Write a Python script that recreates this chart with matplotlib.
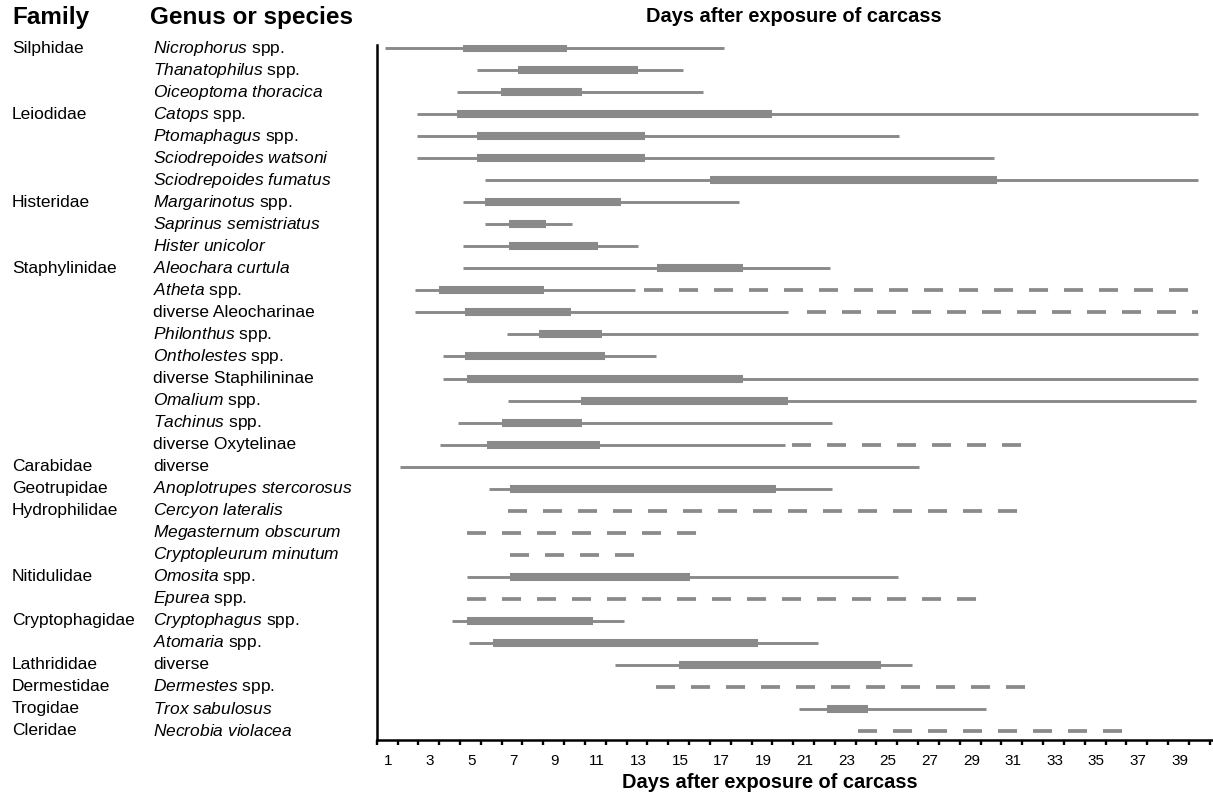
import matplotlib
matplotlib.use("Agg")
import matplotlib.pyplot as plt
import matplotlib.transforms as mtransforms
import numpy as np

plt.rcParams['font.family'] = ['Liberation Sans', 'DejaVu Sans']
plt.rcParams['mathtext.fontset'] = 'custom'
plt.rcParams['mathtext.it'] = 'Liberation Sans:italic'
plt.rcParams['mathtext.rm'] = 'Liberation Sans'
plt.rcParams['lines.scale_dashes'] = False

# family label and the row it starts on
families = ["Silphidae", "Leiodidae", "Histeridae", "Staphylinidae", "Carabidae",
            "Geotrupidae", "Hydrophilidae", "Nitidulidae", "Cryptophagidae",
            "Lathrididae", "Dermestidae", "Trogidae", "Cleridae"]
family_rows = [0, 3, 7, 10, 19, 20, 21, 24, 26, 28, 29, 30, 31]

# (italic part, plain part)
species = [
    ("Nicrophorus", "spp."), ("Thanatophilus", "spp."), ("Oiceoptoma thoracica", ""),
    ("Catops", "spp."), ("Ptomaphagus", "spp."), ("Sciodrepoides watsoni", ""),
    ("Sciodrepoides fumatus", ""), ("Margarinotus", "spp."), ("Saprinus semistriatus", ""),
    ("Hister unicolor", ""), ("Aleochara curtula", ""), ("Atheta", "spp."),
    ("", "diverse Aleocharinae"), ("Philonthus", "spp."), ("Ontholestes", "spp."),
    ("", "diverse Staphilininae"), ("Omalium", "spp."), ("Tachinus", "spp."),
    ("", "diverse Oxytelinae"), ("", "diverse"), ("Anoplotrupes stercorosus", ""),
    ("Cercyon lateralis", ""), ("Megasternum obscurum", ""), ("Cryptopleurum minutum", ""),
    ("Omosita", "spp."), ("Epurea", "spp."), ("Cryptophagus", "spp."),
    ("Atomaria", "spp."), ("", "diverse"), ("Dermestes", "spp."),
    ("Trox sabulosus", ""), ("Necrobia violacea", ""),
]

# full occurrence range (solid thin line)
thin_start = [0.84, 5.24, 4.31, 2.36, 2.36, 2.36, 5.64, 4.6, 5.64, 4.6, 4.6, 2.28,
              2.28, 6.68, 3.61, 3.61, 6.76, 4.36, 3.48, 1.56, 5.85, None, None, None,
              4.79, None, 4.04, 4.89, 11.88, None, 20.73, None]
thin_end = [17.1, 15.16, 16.09, 39.87, 25.5, 30.1, 39.87, 17.85, 9.8, 13.0, 22.2, 12.84,
            20.2, 39.87, 13.85, 39.87, 39.8, 22.3, 20.05, 26.5, 22.3, None, None, None,
            25.48, None, 12.31, 21.64, 26.13, None, 29.72, None]
# main occurrence (thick bar)
thick_start = [4.57, 7.24, 6.41, 4.31, 5.24, 5.24, 16.44, 5.64, 6.81, 6.81, 13.88, 3.45,
               4.68, 8.25, 4.68, 4.79, 10.24, 6.44, 5.72, None, 6.84, None, None, None,
               6.84, None, 4.79, 6.04, 14.97, None, 22.05, None]
thick_end = [9.59, 13.0, 10.28, 19.4, 13.32, 13.32, 30.24, 12.16, 8.57, 11.05, 18.04, 8.47,
             9.76, 11.27, 11.4, 18.04, 20.18, 10.28, 11.16, None, 19.6, None, None, None,
             15.48, None, 10.81, 18.76, 24.68, None, 24.05, None]
# sporadic occurrence (dashed line)
dash_start = [None] * 11 + [13.3, 21.1] + [None] * 5 + [20.4, None, None, 6.76, 4.79, 6.84,
                                                        None, 4.79, None, None, None, 13.85, None, 23.56]
dash_end = [None] * 11 + [39.5, 39.9] + [None] * 5 + [31.46, None, None, 31.25, 15.83, 12.84,
                                                      None, 29.29, None, None, None, 31.57, None, 36.26]

day_labels = list(range(1, 40, 2))

W, H = 1213, 797
fig = plt.figure(figsize=(W / 100, H / 100), dpi=100)
ax = fig.add_axes([376.7 / W, 1 - 740 / H, 1 - 376.7 / W, (740 - 45) / H])

grey = '#8a8a8a'
for i in range(len(species)):
    if thin_start[i] is not None:
        ax.plot([thin_start[i], thin_end[i]], [i, i], color=grey, lw=2.1,
                solid_capstyle='butt')
    if thick_start[i] is not None:
        ax.plot([thick_start[i], thick_end[i]], [i, i], color=grey, lw=5.8,
                solid_capstyle='butt')
    if dash_start[i] is not None:
        ax.plot([dash_start[i], dash_end[i]], [i, i], color=grey, lw=2.7,
                dashes=(13.7, 11.5), dash_capstyle='butt')

ax.set_xlim(0.44, 40.6)
ax.set_ylim(31.41, -0.14)
for s in ['top', 'right']:
    ax.spines[s].set_visible(False)
for s in ['left', 'bottom']:
    ax.spines[s].set_linewidth(1.8)
ax.set_yticks([])
ax.set_xticks(np.arange(0.44, 40.6, 1))
ax.set_xticklabels([])
ax.tick_params(axis='x', which='major', length=3.8, width=1.7, direction='out')
ax.set_xticks(day_labels, minor=True)
ax.set_xticklabels([str(d) for d in day_labels], minor=True)
ax.tick_params(axis='x', which='minor', length=0, pad=10, labelsize=11)

trans = mtransforms.blended_transform_factory(fig.transFigure, ax.transData)
for name, row in zip(families, family_rows):
    ax.text(12 / W, row, name, transform=trans, ha='left', va='center',
            fontsize=12.5, clip_on=False)
for i, (it, plain) in enumerate(species):
    label = ""
    if it:
        label = r"$\mathit{" + it.replace(" ", r"\ ") + "}$"
    if plain:
        label = (label + " " + plain) if label else plain
    ax.text(153 / W, i, label, transform=trans, ha='left', va='center',
            fontsize=12.5, clip_on=False)

fig.text(12 / W, 1 - 24 / H, "Family", fontsize=17.5, fontweight='bold', va='baseline')
fig.text(150 / W, 1 - 24 / H, "Genus or species", fontsize=17.5, fontweight='bold',
         va='baseline')
fig.text(794 / W, 1 - 16 / H, "Days after exposure of carcass", fontsize=14.4,
         fontweight='bold', ha='center', va='center')
fig.text(770 / W, 1 - 783 / H, "Days after exposure of carcass", fontsize=14.4,
         fontweight='bold', ha='center', va='center')

fig.savefig("out.png", dpi=100)
